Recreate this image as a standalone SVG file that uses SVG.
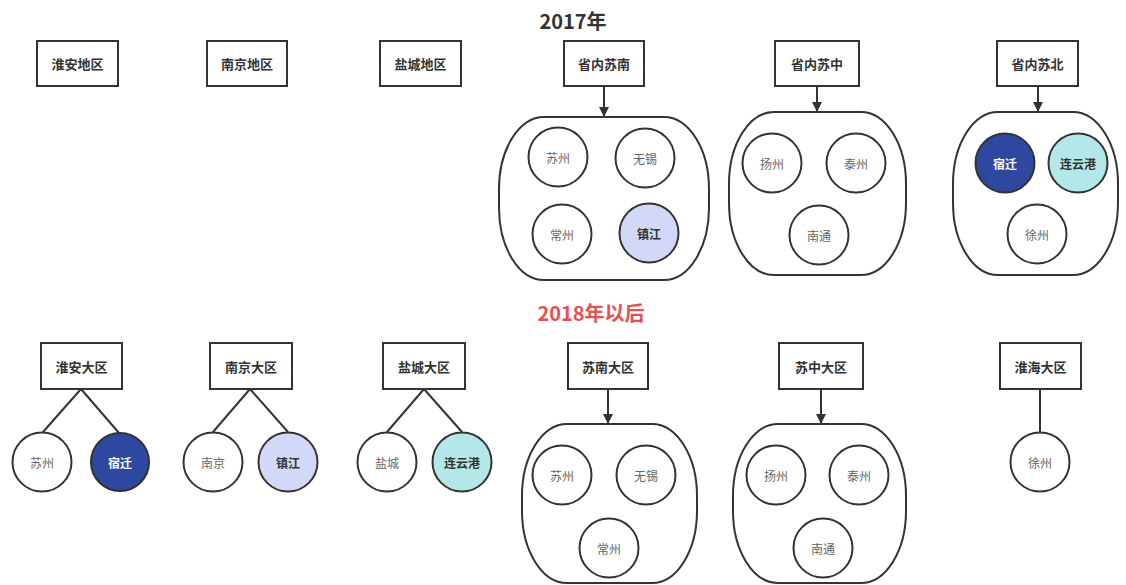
<svg xmlns="http://www.w3.org/2000/svg" width="1126" height="585" viewBox="0 0 1126 585">
<defs>
<style>
text{font-family:"Noto Sans CJK SC","Liberation Sans",sans-serif;text-anchor:middle;dominant-baseline:central}
.box rect{fill:#fff;stroke:#333;stroke-width:2}
.box text{font-size:13px;font-weight:bold;fill:#333}
.grp{fill:#fff;stroke:#333;stroke-width:2}
.c circle{fill:#fff;stroke:#333;stroke-width:2}
.c text{font-size:12px;fill:#666}
.c.blue circle{fill:#2e48a0}
.c.blue text{fill:#fff;font-weight:bold}
.c.lav circle{fill:#d4d8f8}
.c.cyan circle{fill:#b4e8e8}
.c.lav text,.c.cyan text{fill:#333;font-weight:bold}
.edge{stroke:#333;stroke-width:2;fill:none}
.title{font-size:20px;font-weight:bold}
</style>
<marker id="arr" viewBox="0 0 10 10" refX="10" refY="5" markerWidth="5" markerHeight="5" orient="auto" markerUnits="strokeWidth">
<path d="M0,0 L10,5 L0,10 Z" fill="#333"/>
</marker>
</defs>
<rect width="1126" height="585" fill="#fff"/>
<text class="title" x="573" y="20" fill="#333">2017年</text>
<text class="title" x="591" y="312" fill="#e8504f">2018年以后</text>

<g id="connectors">
<line class="edge" x1="604" y1="86" x2="604" y2="117" marker-end="url(#arr)"/>
<line class="edge" x1="817" y1="86" x2="817" y2="112" marker-end="url(#arr)"/>
<line class="edge" x1="1038" y1="86" x2="1038" y2="112" marker-end="url(#arr)"/>
<line class="edge" x1="608" y1="389" x2="608" y2="424" marker-end="url(#arr)"/>
<line class="edge" x1="821" y1="389" x2="821" y2="424" marker-end="url(#arr)"/>
<line class="edge" x1="81" y1="389" x2="43" y2="432"/>
<line class="edge" x1="81" y1="389" x2="119" y2="433"/>
<line class="edge" x1="250" y1="389" x2="213" y2="432"/>
<line class="edge" x1="250" y1="389" x2="288" y2="432"/>
<line class="edge" x1="424" y1="389" x2="387" y2="432"/>
<line class="edge" x1="424" y1="389" x2="462" y2="432"/>
<line class="edge" x1="1040" y1="389" x2="1040" y2="432"/>
</g>

<g id="b-huaian" class="box"><rect x="37" y="41" width="81" height="45"/><text x="77.5" y="63.5">淮安地区</text></g>
<g id="b-nanjing" class="box"><rect x="207" y="41" width="80" height="45"/><text x="247" y="63.5">南京地区</text></g>
<g id="b-yancheng" class="box"><rect x="380" y="41" width="81" height="45"/><text x="420.5" y="63.5">盐城地区</text></g>
<g id="b-sunan" class="box"><rect x="564" y="41" width="80" height="45"/><text x="604" y="63.5">省内苏南</text></g>
<g id="b-suzhong" class="box"><rect x="775" y="41" width="84" height="45"/><text x="817" y="63.5">省内苏中</text></g>
<g id="b-subei" class="box"><rect x="997" y="41" width="81" height="45"/><text x="1037.5" y="63.5">省内苏北</text></g>

<g id="g-sunan17">
<rect class="grp" x="499" y="117" width="210" height="163" rx="45" ry="72"/>
<g class="c"><circle cx="558" cy="157" r="29.5"/><text x="558" y="157">苏州</text></g>
<g class="c"><circle cx="645" cy="158" r="29.5"/><text x="645" y="158">无锡</text></g>
<g class="c"><circle cx="562" cy="234" r="29.5"/><text x="562" y="234">常州</text></g>
<g class="c lav"><circle cx="649" cy="233" r="29.5"/><text x="649" y="233">镇江</text></g>
</g>
<g id="g-suzhong17">
<rect class="grp" x="729" y="112" width="177" height="163" rx="45" ry="72"/>
<g class="c"><circle cx="772" cy="163" r="29.5"/><text x="772" y="163">扬州</text></g>
<g class="c"><circle cx="856" cy="163" r="29.5"/><text x="856" y="163">泰州</text></g>
<g class="c"><circle cx="819" cy="235" r="29.5"/><text x="819" y="235">南通</text></g>
</g>
<g id="g-subei17">
<rect class="grp" x="953" y="112" width="165" height="163" rx="45" ry="72"/>
<g class="c blue"><circle cx="1005" cy="163" r="29.5"/><text x="1005" y="163">宿迁</text></g>
<g class="c cyan"><circle cx="1078" cy="163" r="29.5"/><text x="1078" y="163">连云港</text></g>
<g class="c"><circle cx="1037" cy="234" r="29.5"/><text x="1037" y="234">徐州</text></g>
</g>

<g id="b-huaian18" class="box"><rect x="41" y="343" width="81" height="46"/><text x="81.5" y="366">淮安大区</text></g>
<g id="b-nanjing18" class="box"><rect x="210" y="343" width="82" height="46"/><text x="251" y="366">南京大区</text></g>
<g id="b-yancheng18" class="box"><rect x="383" y="343" width="82" height="46"/><text x="424" y="366">盐城大区</text></g>
<g id="b-sunan18" class="box"><rect x="568" y="343" width="80" height="46"/><text x="608" y="366">苏南大区</text></g>
<g id="b-suzhong18" class="box"><rect x="779" y="343" width="84" height="46"/><text x="821" y="366">苏中大区</text></g>
<g id="b-huaihai18" class="box"><rect x="1000" y="343" width="81" height="46"/><text x="1040.5" y="366">淮海大区</text></g>

<g id="n-suzhou18" class="c"><circle cx="42" cy="462" r="29.5"/><text x="42" y="462">苏州</text></g>
<g id="n-suqian18" class="c blue"><circle cx="120" cy="462" r="29" stroke="#2e48a0"/><text x="120" y="462">宿迁</text></g>
<g id="n-nanjing18" class="c"><circle cx="213" cy="462" r="29.5"/><text x="213" y="462">南京</text></g>
<g id="n-zhenjiang18" class="c lav"><circle cx="288" cy="462" r="29.5"/><text x="288" y="462">镇江</text></g>
<g id="n-yancheng18" class="c"><circle cx="387" cy="462" r="29.5"/><text x="387" y="462">盐城</text></g>
<g id="n-lyg18" class="c cyan"><circle cx="462" cy="462" r="29.5"/><text x="462" y="462">连云港</text></g>

<g id="g-sunan18">
<rect class="grp" x="522" y="424" width="175" height="159" rx="45" ry="72"/>
<g class="c"><circle cx="562" cy="475" r="29.5"/><text x="562" y="475">苏州</text></g>
<g class="c"><circle cx="646" cy="475" r="29.5"/><text x="646" y="475">无锡</text></g>
<g class="c"><circle cx="609" cy="548" r="29.5"/><text x="609" y="548">常州</text></g>
</g>
<g id="g-suzhong18">
<rect class="grp" x="733" y="424" width="173" height="159" rx="45" ry="72"/>
<g class="c"><circle cx="776" cy="475" r="29.5"/><text x="776" y="475">扬州</text></g>
<g class="c"><circle cx="859" cy="475" r="29.5"/><text x="859" y="475">泰州</text></g>
<g class="c"><circle cx="823" cy="548" r="29.5"/><text x="823" y="548">南通</text></g>
</g>
<g id="n-xuzhou18" class="c"><circle cx="1040" cy="462" r="29.5"/><text x="1040" y="462">徐州</text></g>
</svg>
